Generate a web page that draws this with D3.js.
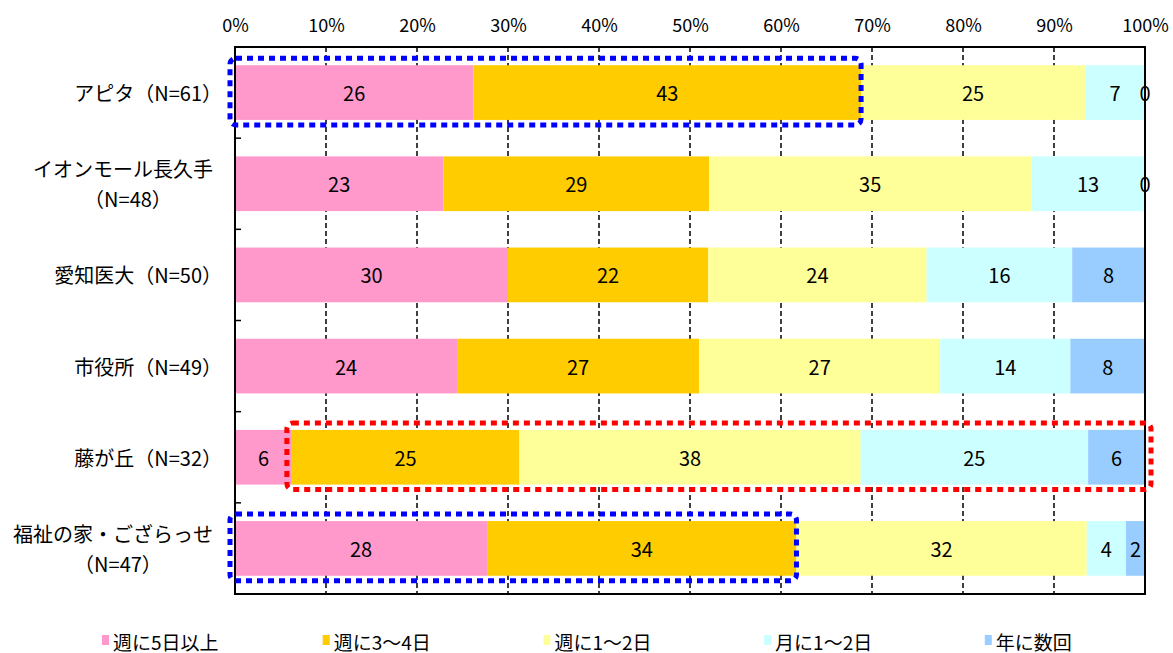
<!DOCTYPE html>
<html><head><meta charset="utf-8">
<script src="https://cdn.jsdelivr.net/npm/d3@7"></script>
<style>
body{margin:0;background:#fff}
svg text{font-family:"Noto Sans CJK JP","Noto Sans",sans-serif;fill:#000}
</style>
</head><body><svg id="chart" width="1173" height="653"></svg>
<script>
// ---- data ----
const categoryLines = [
  ["アピタ（N=61）"],
  ["イオンモール長久手", "（N=48）"],
  ["愛知医大（N=50）"],
  ["市役所（N=49）"],
  ["藤が丘（N=32）"],
  ["福祉の家・ござらっせ", "（N=47）"]
];
const seriesNames = ["週に5日以上", "週に3～4日", "週に1～2日", "月に1～2日", "年に数回"];
const s5daysPlus = [26.2, 22.9, 30, 24.4, 6.25, 27.7];
const s3to4days  = [42.6, 29.2, 22, 26.6, 25, 34.0];
const s1to2week  = [24.6, 35.4, 24, 26.5, 37.5, 31.9];
const s1to2month = [6.6, 12.5, 16, 14.3, 25, 4.3];
const sFewYear   = [0, 0, 8, 8.2, 6.25, 2.1];
const tickValues = [0, 10, 20, 30, 40, 50, 60, 70, 80, 90, 100];
// highlighted groups: row index, first and last series index
const highlights = [
  {row: 0, from: 0, to: 1, kind: "blue"},
  {row: 4, from: 1, to: 4, kind: "red"},
  {row: 5, from: 0, to: 1, kind: "blue"}
];

// ---- styles ----
const colors = ["#FF99CC", "#FFCC00", "#FFFF99", "#CCFFFF", "#99CCFF"];
const boxColors = {blue: "#0000FF", red: "#FF0000"};
const L = 235, R = 1145, T = 47, B = 594;

const series = [s5daysPlus, s3to4days, s1to2week, s1to2month, sFewYear];
const rows = categoryLines.map((c, i) => {
  const o = {idx: i};
  series.forEach((s, k) => o[k] = s[i]);
  return o;
});
const stacked = d3.stack().keys(d3.range(series.length))(rows);

const svg = d3.select("#chart");
const x = d3.scaleLinear().domain([0, 100]).range([L, R]);
const y = d3.scaleBand().domain(d3.range(rows.length)).range([T, B]).paddingInner(0.4).paddingOuter(0.2);

// gridlines
svg.append("g").selectAll("line").data(tickValues.filter(t => t > 0 && t < 100)).join("line")
  .attr("x1", d => x(d)).attr("x2", d => x(d)).attr("y1", T).attr("y2", B)
  .attr("stroke", "#000").attr("stroke-width", 1.5).attr("stroke-dasharray", "5,3");

// bars
const gBars = svg.append("g");
stacked.forEach((layer, k) => {
  gBars.append("g").selectAll("rect").data(layer).join("rect")
    .attr("x", d => x(d[0])).attr("width", d => x(d[1]) - x(d[0]))
    .attr("y", (d, i) => y(i)).attr("height", y.bandwidth())
    .attr("fill", colors[k]);
});
// value labels
stacked.forEach((layer, k) => {
  gBars.append("g").selectAll("text").data(layer).join("text")
    .attr("x", d => x((d[0] + d[1]) / 2)).attr("y", (d, i) => y(i) + y.bandwidth() / 2)
    .attr("text-anchor", "middle").attr("dominant-baseline", "central")
    .attr("font-size", 20)
    .text(d => Math.round(d[1] - d[0]));
});

// plot border
svg.append("rect").attr("x", L).attr("y", T).attr("width", R - L).attr("height", B - T)
  .attr("fill", "none").attr("stroke", "#000").attr("stroke-width", 2);

// left ticks at category boundaries
svg.append("g").selectAll("line").data(d3.range(1, rows.length)).join("line")
  .attr("x1", L).attr("x2", L + 6)
  .attr("y1", i => T + i * y.step()).attr("y2", i => T + i * y.step())
  .attr("stroke", "#000").attr("stroke-width", 1.5);

// top axis labels
const axis = svg.append("g").attr("transform", `translate(0,${T})`)
  .call(d3.axisTop(x).tickValues(tickValues).tickFormat(d => d + "%").tickSize(0).tickPadding(15));
axis.select(".domain").remove();
axis.selectAll("text").attr("font-size", 18).attr("font-family", null);

// category labels
const LX = 213;
categoryLines.forEach((lines, i) => {
  const cy = y(i) + y.bandwidth() / 2;
  if (lines.length === 1) {
    svg.append("text").attr("x", LX + 9).attr("y", cy).attr("text-anchor", "end")
      .attr("dominant-baseline", "central").attr("font-size", 20).text(lines[0]);
  } else {
    const t1 = svg.append("text").attr("x", LX).attr("y", cy - 15).attr("text-anchor", "end")
      .attr("dominant-baseline", "central").attr("font-size", 20).text(lines[0]);
    const w = t1.node().getComputedTextLength();
    svg.append("text").attr("x", LX - w / 2 + 5).attr("y", cy + 15).attr("text-anchor", "middle")
      .attr("dominant-baseline", "central").attr("font-size", 20).text(lines[1]);
  }
});

// highlight boxes
highlights.forEach(h => {
  const seg0 = stacked[h.from][h.row], seg1 = stacked[h.to][h.row];
  const x0 = x(seg0[0]) - 5;
  const x1 = x(seg1[1]) + (seg1[1] >= 100 ? 6 : 0);
  const y0 = y(h.row) - 7, y1 = y(h.row) + y.bandwidth() + 5;
  svg.append("rect").attr("x", x0).attr("y", y0).attr("width", x1 - x0).attr("height", y1 - y0)
    .attr("rx", 6).attr("fill", "none").attr("stroke", boxColors[h.kind])
    .attr("stroke-width", 5).attr("stroke-dasharray", "6,5");
});

// legend
const legend = svg.append("g").selectAll("g").data(seriesNames).join("g")
  .attr("transform", (d, i) => `translate(${102 + i * 220.7},0)`);
legend.append("rect").attr("x", 0).attr("y", 635).attr("width", 7).attr("height", 10)
  .attr("fill", (d, i) => colors[i]);
legend.append("text").attr("x", 11).attr("y", 641).attr("dominant-baseline", "central")
  .attr("font-size", 19).text(d => d);
</script>
</body></html>
